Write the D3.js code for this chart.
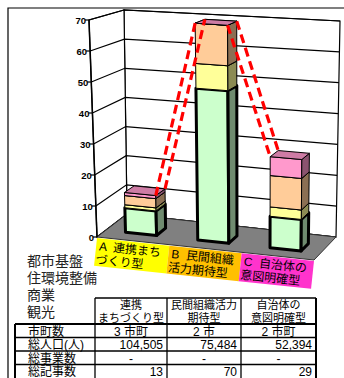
<!DOCTYPE html>
<html><head><meta charset="utf-8">
<script src="https://cdn.jsdelivr.net/npm/d3@7"></script>
<style>body{margin:0;background:#fff} svg{display:block}</style>
</head><body><svg id="c" width="344" height="378"></svg>
<script>
// ---- data ----
const categories = ["A", "B", "C"];
const categoryLabels = [["A  連携まち", "づくり型"], ["B  民間組織", "活力期待型"], ["C  自治体の", "意図明確型"]];
const seriesNames = ["都市基盤", "住環境整備", "商業", "観光"];
const toshiKiban = [8, 49, 10];
const jukankyo = [1, 8, 3];
const shogyo = [3, 13, 10];
const kanko = [1, 0, 6];
const valueTicks = [0, 10, 20, 30, 40, 50, 60, 70];
const tableHeaders = [["連携", "まちづくり型"], ["民間組織活力", "期待型"], ["自治体の", "意図明確型"]];
const rowLabels = ["市町数", "総人口(人)", "総事業数", "総記事数"];
const municipalities = ["3 市町", "2 市", "2 市町"];
const population = [104505, 75484, 52394];
const projects = ["-", "-", "-"];
const articles = [13, 70, 29];

// ---- styles ----
const seriesColors = ["#ccffcc", "#ffff99", "#ffcc99", "#ff99cc"];
const labelColors = ["#ffff00", "#ffc000", "#ff33cc"];
const FONT = "'Liberation Sans', 'Noto Sans CJK JP', sans-serif";

const svg = d3.select("#c");

// ---- 3D-ish projection: floor / ceiling corners ----
const FLB = [97, 237], FRB = [314, 260], BLB = [127, 214], BRB = [336, 237];
const FLT = [89, 20], FRT = [316, 36], BLT = [124, 10], BRT = [340, 21];
const lerp = (a, b, t) => [a[0] + (b[0] - a[0]) * t, a[1] + (b[1] - a[1]) * t];
const vScale = d3.scaleLinear().domain([0, 70]).range([0, 1]);
const uScale = d3.scaleBand().domain(categories).range([0, 1]).paddingInner(0.57).paddingOuter(0.27);
const labelScale = d3.scaleBand().domain(categories).range([0, 1]);
function P(u, v, d) {
  const bot = lerp(lerp(FLB, FRB, u), lerp(BLB, BRB, u), d);
  const top = lerp(lerp(FLT, FRT, u), lerp(BLT, BRT, u), d);
  return lerp(bot, top, vScale(v));
}
const poly = pts => "M" + pts.map(p => p[0].toFixed(2) + "," + p[1].toFixed(2)).join("L") + "Z";

// outer frame
svg.append("path").attr("d", "M8,380L8,8L346,8").attr("fill", "none").attr("stroke", "#000").attr("stroke-width", 1.2);

// walls
const g = svg.append("g");
g.append("path").attr("d", poly([P(0, 0, 1), P(1, 0, 1), P(1, 70, 1), P(0, 70, 1)]))
  .attr("fill", "#fff").attr("stroke", "#000").attr("stroke-width", 1.2);
g.append("path").attr("d", poly([P(0, 0, 0), P(0, 0, 1), P(0, 70, 1), P(0, 70, 0)]))
  .attr("fill", "#fff").attr("stroke", "#000").attr("stroke-width", 1.2);
// gridlines
valueTicks.forEach(t => {
  const a = P(0, t, 0), b = P(0, t, 1), c = P(1, t, 1);
  g.append("path").attr("d", `M${a}L${b}L${c}`).attr("fill", "none").attr("stroke", "#000").attr("stroke-width", 1.2);
});
// floor
g.append("path").attr("d", poly([P(0, 0, 0), P(1, 0, 0), P(1, 0, 1), P(0, 0, 1)]))
  .attr("fill", "#808080").attr("stroke", "#333").attr("stroke-width", 1);

// value axis
const a0 = P(0, 0, 0), a1 = P(0, 70, 0);
g.append("path").attr("d", `M${a0}L${a1}`).attr("stroke", "#000").attr("stroke-width", 1.5);
valueTicks.forEach(t => {
  const p = P(0, t, 0);
  g.append("line").attr("x1", p[0]).attr("y1", p[1]).attr("x2", p[0] - 4).attr("y2", p[1]).attr("stroke", "#000").attr("stroke-width", 1.2);
  g.append("text").attr("x", p[0] - 3).attr("y", p[1] + 3.5).attr("text-anchor", "end")
    .attr("font-family", FONT).attr("font-weight", "bold").attr("font-size", 9.5).text(t);
});

// bars
const rows = categories.map((c, i) => ({ cat: c, s0: toshiKiban[i], s1: jukankyo[i], s2: shogyo[i], s3: kanko[i] }));
const stack = d3.stack().keys(["s0", "s1", "s2", "s3"])(rows);
const d0 = 0.3, d1 = 0.62;
const tops = [];
categories.forEach((c, ci) => {
  const u0 = uScale(c), u1 = u0 + uScale.bandwidth();
  stack.forEach((layer, si) => {
    const [v0, v1] = layer[ci];
    const col = d3.color(seriesColors[si]);
    const sw = si === 0 ? 3 : 1;
    const gb = g.append("g").attr("stroke", "#000").attr("stroke-width", sw).attr("stroke-linejoin", "round");
    gb.append("path").attr("d", poly([P(u0, v0, d0), P(u1, v0, d0), P(u1, v1, d0), P(u0, v1, d0)])).attr("fill", col.formatHex());
    gb.append("path").attr("d", poly([P(u1, v0, d0), P(u1, v0, d1), P(u1, v1, d1), P(u1, v1, d0)])).attr("fill", col.darker(1.7).formatHex());
    gb.append("path").attr("d", poly([P(u0, v1, d0), P(u1, v1, d0), P(u1, v1, d1), P(u0, v1, d1)])).attr("fill", col.darker(0.6).formatHex()).attr("stroke-width", 1);
  });
  const tot = stack[stack.length - 1][ci][1];
  tops.push({ u0, u1, tot });
});

// red dashed connectors between bar tops
for (let i = 0; i < tops.length - 1; i++) {
  const a = tops[i], b = tops[i + 1];
  [d0, d1].forEach(d => {
    const p = P(a.u1, a.tot, d), q = P(b.u0, b.tot, d);
    g.append("line").attr("x1", p[0]).attr("y1", p[1]).attr("x2", q[0]).attr("y2", q[1])
      .attr("stroke", "#ff0000").attr("stroke-width", 3.2).attr("stroke-dasharray", "9,5");
  });
}

// category label boxes
categories.forEach((c, i) => {
  const s = P(labelScale(c), 0, 0), e = P(labelScale(c) + labelScale.bandwidth(), 0, 0);
  const w = Math.hypot(e[0] - s[0], e[1] - s[1]);
  const ang = Math.atan2(e[1] - s[1], e[0] - s[0]) * 180 / Math.PI;
  const lg = svg.append("g").attr("transform", `translate(${s[0]},${s[1] + 1}) rotate(${ang})`);
  lg.append("rect").attr("width", w).attr("height", 28).attr("fill", labelColors[i]);
  lg.append("text").attr("x", 3).attr("y", 12).attr("font-family", FONT).attr("font-size", 12).style("white-space", "pre").text(categoryLabels[i][0]);
  lg.append("text").attr("x", 1).attr("y", 25.5).attr("font-family", FONT).attr("font-size", 12).text(categoryLabels[i][1]);
});

// left texts (series names)
const nameY = d3.scalePoint().domain(seriesNames).range([266, 317]);
seriesNames.forEach(n => {
  svg.append("text").attr("x", 27).attr("y", nameY(n)).attr("font-family", FONT).attr("font-size", 14).attr("fill", "#222").text(n);
});

// table
const colX = [95, 167, 241, 316];
const rowY = [324, 337.5, 351, 364.5, 378];
const tg = svg.append("g");
const ln = (x1, y1, x2, y2, w) => tg.append("line").attr("x1", x1).attr("y1", y1).attr("x2", x2).attr("y2", y2).attr("stroke", "#000").attr("stroke-width", w || 1.3);
ln(95, 298, 316, 298);
colX.forEach(x => ln(x, 298, x, 380, x === 316 ? 2 : 1.3));
ln(15, 324, 15, 380, 2);
rowY.slice(0, 4).forEach((y, i) => ln(15, y, 316, y, i === 0 ? 2 : 1.3));
tableHeaders.forEach((h, i) => {
  const cx = (colX[i] + colX[i + 1]) / 2;
  h.forEach((t, k) => tg.append("text").attr("x", cx).attr("y", 309 + k * 12.5).attr("text-anchor", "middle")
    .attr("font-family", FONT).attr("font-size", 11).text(t));
});
rowLabels.forEach((t, r) => tg.append("text").attr("x", 28).attr("y", rowY[r] + 11.5).attr("font-family", FONT).attr("font-size", 12).text(t));
const fmt = d3.format(",");
const cellRows = [municipalities, population.map(fmt), projects, articles.map(String)];
const align = ["middle", "end", "middle", "end"];
cellRows.forEach((vals, r) => vals.forEach((v, i) => {
  const x = align[r] === "middle" ? (colX[i] + colX[i + 1]) / 2 : colX[i + 1] - 4;
  tg.append("text").attr("x", x).attr("y", rowY[r] + 11.5).attr("text-anchor", align[r])
    .attr("font-family", FONT).attr("font-size", 12).text(v);
}));
</script></body></html>
